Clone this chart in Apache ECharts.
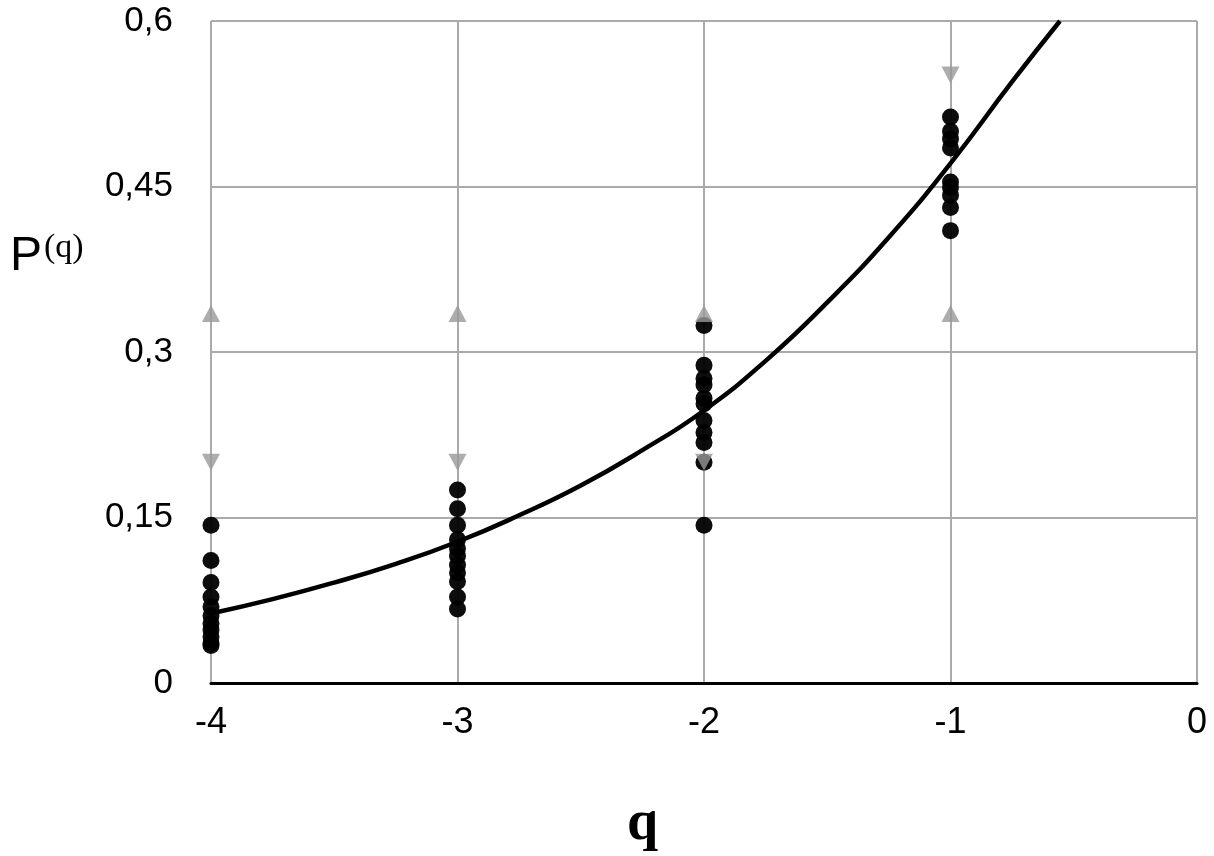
<!DOCTYPE html>
<html>
<head>
<meta charset="utf-8">
<script src="https://cdn.jsdelivr.net/npm/echarts@6/dist/echarts.min.js"></script>
<style>
html, body { margin: 0; padding: 0; background: #fff; }
#main { width: 1214px; height: 856px; }
</style>
</head>
<body>
<div id="main"></div>
<script>
// measured points, one column per q
var q4 = [0.143, 0.111, 0.091, 0.078, 0.069, 0.061, 0.054, 0.048, 0.042, 0.036, 0.034];
var q3 = [0.175, 0.158, 0.143, 0.130, 0.122, 0.115, 0.107, 0.100, 0.092, 0.078, 0.067];
var q2 = [0.324, 0.288, 0.276, 0.270, 0.258, 0.253, 0.238, 0.227, 0.218, 0.200, 0.143];
var q1 = [0.513, 0.500, 0.493, 0.485, 0.454, 0.449, 0.442, 0.431, 0.410];

// fitted curve
var fitX = [-4, -3.75, -3.5, -3.25, -3, -2.75, -2.5, -2.25, -2, -1.75, -1.5, -1.25, -1, -0.75, -0.556];
var fitY = [0.063, 0.076, 0.091, 0.108, 0.128, 0.152, 0.179, 0.211, 0.247, 0.292, 0.345, 0.404, 0.471, 0.545, 0.6];

// gray arrow heads
var upMarks = [[-4, 0.335], [-3, 0.335], [-2, 0.335], [-1, 0.335]];
var downMarks = [[-4, 0.2], [-3, 0.2], [-2, 0.2], [-1, 0.551]];

var xTicks = [-4, -3, -2, -1, 0];
var yTicks = [0, 0.15, 0.3, 0.45, 0.6];

var points = [];
[[-4, q4], [-3, q3], [-2, q2], [-1, q1]].forEach(function (col) {
    col[1].forEach(function (v) { points.push([col[0], v]); });
});

var fitData = fitX.map(function (x, i) { return [x, fitY[i]]; });

var myChart = echarts.init(document.getElementById('main'));
myChart.setOption({
    animation: false,
    backgroundColor: '#fff',
    title: [{
        text: '{p|P}{s|(q)}',
        left: 5,
        top: 226,
        textStyle: {
            fontWeight: 'normal',
            rich: {
                p: { fontFamily: 'Liberation Sans', fontSize: 48, fontWeight: 'normal', color: '#000', verticalAlign: 'bottom' },
                s: { fontFamily: 'Liberation Serif', fontSize: 34, fontWeight: 'normal', color: '#000', verticalAlign: 'top', padding: [0, 0, 16, 2] }
            }
        }
    }, {
        text: 'q',
        left: 622,
        top: 792,
        textStyle: { fontFamily: 'Liberation Serif', fontSize: 56, fontWeight: 'bold', color: '#000' }
    }],
    grid: { left: 211, right: 17, top: 21, bottom: 173 },
    xAxis: {
        type: 'value',
        min: -4,
        max: 0,
        interval: 1,
        axisLine: { show: true, onZero: false, lineStyle: { color: '#000', width: 3 } },
        axisTick: { show: false },
        axisLabel: {
            margin: 22,
            fontFamily: 'Liberation Sans Narrow, Liberation Sans',
            fontSize: 36,
            color: '#000',
            formatter: function (v) { return xTicks.indexOf(v) >= 0 ? String(v) : ''; }
        },
        splitLine: { show: true, lineStyle: { color: '#aaa', width: 2 } }
    },
    yAxis: {
        type: 'value',
        min: 0,
        max: 0.6,
        interval: 0.15,
        axisLine: { show: false },
        axisTick: { show: false },
        axisLabel: {
            margin: 38,
            fontFamily: 'Liberation Sans',
            fontSize: 35,
            color: '#000',
            formatter: function (v) {
                var t = yTicks.filter(function (y) { return Math.abs(y - v) < 1e-9; })[0];
                return t === undefined ? '' : String(t).replace('.', ',');
            }
        },
        splitLine: { show: true, lineStyle: { color: '#aaa', width: 2 } }
    },
    series: [{
        type: 'scatter',
        data: points,
        symbolSize: 17,
        itemStyle: { color: '#000', opacity: 0.95 },
        z: 2
    }, {
        type: 'scatter',
        data: upMarks,
        symbol: 'triangle',
        symbolSize: [18, 17],
        itemStyle: { color: '#999' },
        z: 3
    }, {
        type: 'scatter',
        data: downMarks,
        symbol: 'triangle',
        symbolRotate: 180,
        symbolSize: [18, 17],
        itemStyle: { color: '#999' },
        z: 3
    }, {
        type: 'line',
        data: fitData,
        smooth: true,
        showSymbol: false,
        lineStyle: { color: '#000', width: 4.5 },
        z: 4
    }]
});
</script>
</body>
</html>
